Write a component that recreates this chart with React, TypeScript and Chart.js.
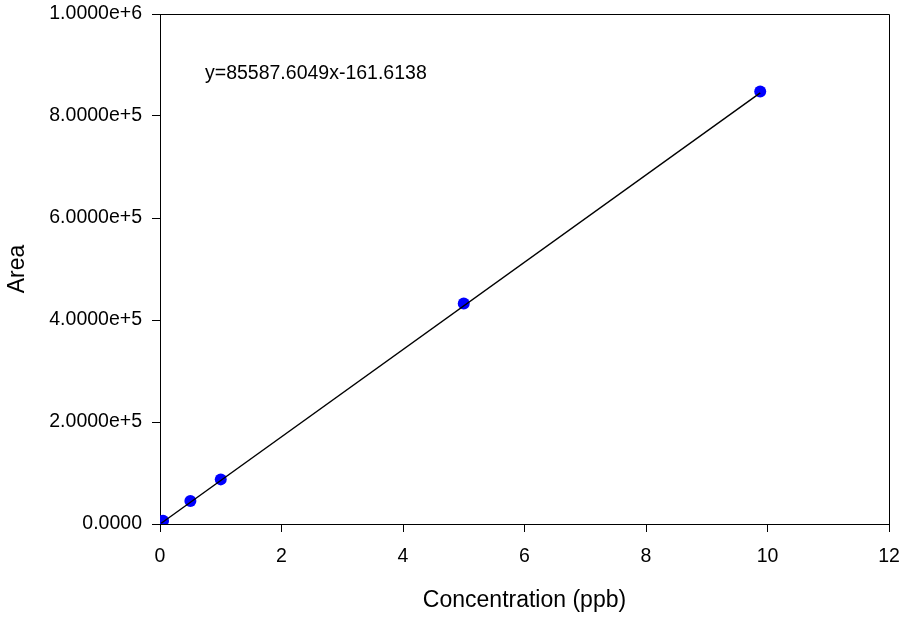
import React, { useEffect, useRef } from "react";
import { Chart, registerables } from "chart.js";

Chart.register(...registerables);

// Calibration standards
const concentrations = [0.02, 0.05, 0.5, 1, 5, 9.88];
const areas = [3000, 6500, 45000, 87500, 432500, 848000];

// Linear fit
const slope = 85587.6049;
const intercept = -161.6138;
const equationLabel = "y=85587.6049x-161.6138";

const xTitle = "Concentration (ppb)";
const yTitle = "Area";

const FONT = "'Liberation Sans', Arial, sans-serif";

export default function App() {
  const ref = useRef<HTMLCanvasElement | null>(null);

  useEffect(() => {
    const canvas = ref.current;
    if (!canvas) return;
    const xMin = Math.min(...concentrations);
    const xMax = Math.max(...concentrations);
    const fitLine = [xMin, xMax].map((x) => ({ x, y: slope * x + intercept }));
    const pts = concentrations.map((x, i) => ({ x, y: areas[i] }));

    const framePlugin = {
      id: "frameAndEquation",
      afterDraw(chart: any) {
        const { ctx, chartArea } = chart;
        ctx.save();
        ctx.strokeStyle = "#000";
        ctx.lineWidth = 1;
        const l = Math.round(chartArea.left) + 0.5;
        const t = Math.round(chartArea.top) + 0.5;
        const r = Math.round(chartArea.right) + 0.5;
        const b = Math.round(chartArea.bottom) + 0.5;
        ctx.beginPath();
        ctx.moveTo(l, t);
        ctx.lineTo(r, t);
        ctx.lineTo(r, b);
        ctx.stroke();
        ctx.fillStyle = "#000";
        ctx.font = `19.5px ${FONT}`;
        ctx.textAlign = "left";
        ctx.textBaseline = "middle";
        ctx.fillText(equationLabel, chartArea.left + 45, chartArea.top + 60);
        ctx.restore();
      },
    };

    const chart = new Chart(canvas, {
      type: "scatter",
      data: {
        datasets: [
          {
            data: fitLine,
            showLine: true,
            borderColor: "#000",
            borderWidth: 1.4,
            pointRadius: 0,
            fill: false,
          },
          {
            data: pts,
            pointRadius: 6,
            pointBackgroundColor: "#0000ff",
            pointBorderWidth: 0,
            backgroundColor: "#0000ff",
            borderColor: "#0000ff",
            showLine: false,
          },
        ],
      },
      options: {
        responsive: false,
        animation: false,
        devicePixelRatio: 1,
        layout: { padding: { top: 14, right: 12, left: 0, bottom: 0 } },
        plugins: {
          legend: { display: false },
          tooltip: { enabled: false },
        },
        scales: {
          x: {
            type: "linear",
            min: 0,
            max: 12,
            ticks: {
              stepSize: 2,
              color: "#000",
              padding: 13,
              font: { family: FONT, size: 19.5 },
            },
            grid: {
              drawOnChartArea: false,
              drawTicks: true,
              tickLength: 8,
              color: "#000",
            },
            border: { display: true, color: "#000", width: 1 },
            title: {
              display: true,
              text: xTitle,
              color: "#000",
              font: { family: FONT, size: 23 },
              padding: { top: 0, bottom: 3 },
            },
            afterFit(scale: any) {
              scale.height = 93;
              scale.paddingLeft = 0;
              scale.paddingRight = 0;
            },
          },
          y: {
            type: "linear",
            min: 0,
            max: 1000000,
            ticks: {
              stepSize: 200000,
              color: "#000",
              padding: 10,
              font: { family: FONT, size: 19.5 },
              callback: (v: any) => (Number(v) === 0 ? "0.0000" : Number(v).toExponential(4)),
            },
            grid: {
              drawOnChartArea: false,
              drawTicks: true,
              tickLength: 8,
              color: "#000",
            },
            border: { display: true, color: "#000", width: 1 },
            title: {
              display: true,
              text: yTitle,
              color: "#000",
              font: { family: FONT, size: 23 },
              padding: { top: 4, bottom: 0 },
            },
            afterFit(scale: any) {
              scale.width = 160;
              scale.paddingTop = 0;
              scale.paddingBottom = 0;
            },
          },
        },
      },
      plugins: [framePlugin],
    });
    return () => chart.destroy();
  }, []);

  return (
    <div style={{ position: "fixed", left: 0, top: 0, width: 901, height: 617, background: "#fff" }}>
      <canvas ref={ref} width={901} height={617} style={{ width: 901, height: 617 }} />
    </div>
  );
}
